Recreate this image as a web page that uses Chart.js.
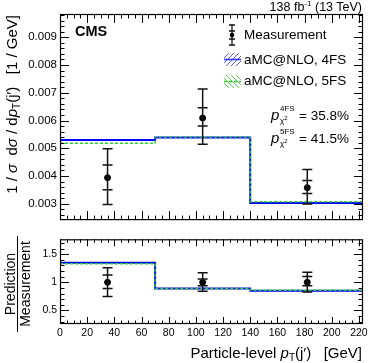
<!DOCTYPE html>
<html><head><meta charset="utf-8">
<script src="https://cdn.jsdelivr.net/npm/chart.js@4.4.0/dist/chart.umd.min.js"></script>
<style>
body{margin:0;background:#fff;width:374px;height:363px;overflow:hidden;position:relative;font-family:"Liberation Sans",Arial,sans-serif;color:#000;}
.abs{position:absolute;white-space:nowrap;line-height:1;}
canvas{position:absolute;left:0;}
sup,sub{line-height:0;}
</style></head><body>
<canvas id="c1" width="374" height="230" style="top:0"></canvas>
<canvas id="c2" width="374" height="133" style="top:230px"></canvas>

<div class="abs" style="right:12px;top:1px;font-size:12.5px;">138 fb<sup style="font-size:8px;vertical-align:5px;">-1</sup> (13 TeV)</div>
<div class="abs" style="left:75px;top:24px;font-size:14.5px;font-weight:bold;">CMS</div>
<div class="abs" style="left:244px;top:28px;font-size:13.5px;">Measurement</div>
<div class="abs" style="left:244px;top:53px;font-size:13.5px;">aMC@NLO, 4FS</div>
<div class="abs" style="left:244px;top:74px;font-size:13.5px;">aMC@NLO, 5FS</div>

<div class="abs" style="left:271px;top:104px;width:80px;height:22px;font-size:13.5px;">
  <span class="abs" style="left:0;top:3px;font-style:italic;font-size:15px;">p</span>
  <span class="abs" style="left:9px;top:1px;font-size:8px;">4FS</span>
  <span class="abs" style="left:9px;top:13px;font-size:8px;">&#967;<sup style="font-size:6px;vertical-align:3px;">2</sup></span>
  <span class="abs" style="left:28px;top:5px;">= 35.8%</span>
</div>
<div class="abs" style="left:271px;top:127px;width:80px;height:22px;font-size:13.5px;">
  <span class="abs" style="left:0;top:3px;font-style:italic;font-size:15px;">p</span>
  <span class="abs" style="left:9px;top:1px;font-size:8px;">5FS</span>
  <span class="abs" style="left:9px;top:13px;font-size:8px;">&#967;<sup style="font-size:6px;vertical-align:3px;">2</sup></span>
  <span class="abs" style="left:28px;top:5px;">= 41.5%</span>
</div>

<div class="abs" style="left:4px;top:229px;width:214px;text-align:right;font-size:15px;transform-origin:0 0;transform:rotate(-90deg);">1 / <i>σ</i>&nbsp; d<i>σ</i> / d<i>p</i><sub style="font-size:10px;vertical-align:-3px;">T</sub>(j′)&nbsp;&nbsp; [1 / GeV]</div>

<div class="abs" style="left:3px;top:332px;width:96px;text-align:center;font-size:14px;transform-origin:0 0;transform:rotate(-90deg);line-height:14px;">
  <div style="border-bottom:1px solid #000;padding-bottom:0px;">Prediction</div>
  <div style="padding-top:0px;">Measurement</div>
</div>

<div class="abs" style="right:12px;top:345px;font-size:15px;">Particle-level <i>p</i><sub style="font-size:10px;vertical-align:-3px;">T</sub>(j′)&nbsp;&nbsp; [GeV]</div>

<script>
// ---------------- data ----------------
const binEdges = [0, 70, 140, 225];
const measX = [35, 105, 182];
const measY = [0.00394, 0.00609, 0.00358];
const statLo = [0.00350, 0.00580, 0.00337];
const statHi = [0.00440, 0.00646, 0.00384];
const totLo = [0.00297, 0.00514, 0.00299];
const totHi = [0.00498, 0.00714, 0.00423];
const pred4FS = [0.00530, 0.00539, 0.00303];
const pred5FS = [0.00518, 0.00540, 0.00307];
const ratioMeas = [1, 1, 1];
const ratioStatLo = [0.89, 0.94, 0.94];
const ratioStatHi = [1.13, 1.06, 1.105];
const ratioTotLo = [0.75, 0.84, 0.83];
const ratioTotHi = [1.26, 1.17, 1.18];
const ratio4FS = [1.35, 0.89, 0.85];
const ratio5FS = [1.33, 0.89, 0.86];
const topYTicks = [0.003, 0.004, 0.005, 0.006, 0.007, 0.008, 0.009];
const ratioYTicks = [0.5, 1, 1.5];
const xTicks = [0, 20, 40, 60, 80, 100, 120, 140, 160, 180, 200, 220];

const FONT = '"Liberation Sans", Arial, sans-serif';

function steps(vals) {
  const pts = vals.map((v, i) => ({x: binEdges[i], y: v}));
  pts.push({x: binEdges[binEdges.length - 1], y: vals[vals.length - 1]});
  return pts;
}

const frameTicks = {
  id: 'frameTicks',
  afterDraw(chart, args, o) {
    const ctx = chart.ctx, a = chart.chartArea;
    const xs = chart.scales.x, ys = chart.scales.y;
    ctx.save();
    ctx.strokeStyle = '#000';
    ctx.lineWidth = 1;
    ctx.beginPath();
    const gen = (min, max, step) => {
      const out = [];
      for (let k = Math.ceil(min / step - 1e-9); k * step <= max + 1e-12; k++) out.push(k * step);
      return out;
    };
    const isMaj = (v, m) => Math.abs(v / m - Math.round(v / m)) < 1e-6;
    gen(xs.min, xs.max, o.xMinor).forEach(v => {
      const p = Math.round(xs.getPixelForValue(v)) + 0.5;
      const L = isMaj(v, o.xMajor) ? o.xMajLen : o.xMinLen;
      ctx.moveTo(p, a.bottom); ctx.lineTo(p, a.bottom - L);
      ctx.moveTo(p, a.top); ctx.lineTo(p, a.top + L);
    });
    gen(ys.min, ys.max, o.yMinor).forEach(v => {
      const p = Math.round(ys.getPixelForValue(v)) + 0.5;
      const L = isMaj(v, o.yMajor) ? o.yMajLen : o.yMinLen;
      ctx.moveTo(a.left, p); ctx.lineTo(a.left + L, p);
      ctx.moveTo(a.right, p); ctx.lineTo(a.right - L, p);
    });
    ctx.stroke();
    ctx.lineWidth = 1.2;
    ctx.strokeRect(a.left + 0.5, a.top + 0.5, a.right - a.left - 1, a.bottom - a.top - 1);
    ctx.restore();
  }
};

const errBars = {
  id: 'errBars',
  afterDatasetsDraw(chart, args, o) {
    const ctx = chart.ctx, xs = chart.scales.x, ys = chart.scales.y;
    ctx.save();
    ctx.strokeStyle = '#111';
    ctx.lineWidth = 1.5;
    o.x.forEach((xv, i) => {
      const px = xs.getPixelForValue(xv);
      const yTl = ys.getPixelForValue(o.totLo[i]), yTh = ys.getPixelForValue(o.totHi[i]);
      const ySl = ys.getPixelForValue(o.statLo[i]), ySh = ys.getPixelForValue(o.statHi[i]);
      ctx.beginPath();
      ctx.moveTo(px, yTl); ctx.lineTo(px, yTh);
      [yTl, yTh, ySl, ySh].forEach(y => { ctx.moveTo(px - 5, y); ctx.lineTo(px + 5, y); });
      ctx.stroke();
    });
    ctx.restore();
  }
};

const legendSyms = {
  id: 'legendSyms',
  afterDraw(chart) {
    const ctx = chart.ctx;
    ctx.save();
    ctx.strokeStyle = '#111'; ctx.lineWidth = 1.3;
    ctx.beginPath();
    const mx = 232;
    ctx.moveTo(mx, 25); ctx.lineTo(mx, 45);
    [25, 31, 39, 45].forEach(y => { ctx.moveTo(mx - 3, y); ctx.lineTo(mx + 3, y); });
    ctx.stroke();
    ctx.fillStyle = '#000';
    ctx.beginPath(); ctx.arc(mx, 35, 2.3, 0, Math.PI * 2); ctx.fill();
    function hatchBox(x0, y0, w, h, col, dir, dash) {
      ctx.save();
      ctx.beginPath(); ctx.rect(x0, y0, w, h); ctx.clip();
      ctx.strokeStyle = col; ctx.lineWidth = 0.8;
      ctx.beginPath();
      for (let k = -h; k < w + h; k += 5) {
        if (dir > 0) { ctx.moveTo(x0 + k, y0 + h); ctx.lineTo(x0 + k + h, y0); }
        else { ctx.moveTo(x0 + k, y0); ctx.lineTo(x0 + k + h, y0 + h); }
      }
      ctx.stroke();
      ctx.restore();
      ctx.strokeStyle = col; ctx.lineWidth = 1.6;
      ctx.setLineDash(dash);
      ctx.beginPath(); ctx.moveTo(x0, y0 + h / 2); ctx.lineTo(x0 + w, y0 + h / 2); ctx.stroke();
      ctx.setLineDash([]);
    }
    hatchBox(224, 53, 17, 13, '#3333ff', 1, []);
    hatchBox(224, 75, 17, 13, '#22cc22', -1, [3, 2]);
    ctx.restore();
  }
};

const BLUE = '#0000ff', GREEN = '#2ad42a';

function lineDs(vals, color, dash, w) {
  return {type: 'scatter', data: steps(vals), showLine: true, stepped: true,
    borderColor: color, borderWidth: w, borderDash: dash, pointRadius: 0, fill: false};
}

Chart.defaults.font.family = FONT;
Chart.defaults.color = '#000';

new Chart(document.getElementById('c1'), {
  type: 'scatter',
  data: {
    datasets: [
      {data: measX.map((x, i) => ({x, y: measY[i]})), pointRadius: 3, pointBackgroundColor: '#000', pointBorderColor: '#000', showLine: false},
      lineDs(pred5FS, GREEN, [3, 2], 1.4),
      lineDs(pred4FS, BLUE, [], 2)
    ]
  },
  options: {
    responsive: false, animation: false, devicePixelRatio: 1,
    layout: {padding: {left: 0, right: 11, top: 14, bottom: 0}},
    plugins: {legend: {display: false}, tooltip: {enabled: false},
      frameTicks: {xMinor: 5, xMajor: 20, yMinor: 0.0002, yMajor: 0.001, xMajLen: 9, xMinLen: 4.5, yMajLen: 9, yMinLen: 4.5},
      errBars: {x: measX, statLo, statHi, totLo, totHi}},
    scales: {
      x: {type: 'linear', min: 0, max: 223, grid: {display: false, drawTicks: false}, border: {display: false},
        ticks: {display: false, stepSize: 20}, afterFit: s => { s.height = 1; }},
      y: {type: 'linear', min: 0.00241, max: 0.00984, grid: {display: false, drawTicks: false}, border: {display: false},
        afterBuildTicks: s => { s.ticks = topYTicks.map(v => ({value: v})); },
        ticks: {padding: 3, font: {size: 11.5}, callback: v => v.toFixed(3)},
        afterFit: s => { s.width = 60; }}
    }
  },
  plugins: [frameTicks, errBars, legendSyms]
});

new Chart(document.getElementById('c2'), {
  type: 'scatter',
  data: {
    datasets: [
      {data: measX.map((x, i) => ({x, y: ratioMeas[i]})), pointRadius: 3, pointBackgroundColor: '#000', pointBorderColor: '#000', showLine: false},
      lineDs(ratio5FS, GREEN, [3, 2], 1.4),
      lineDs(ratio4FS, BLUE, [], 2)
    ]
  },
  options: {
    responsive: false, animation: false, devicePixelRatio: 1,
    layout: {padding: {left: 0, right: 11, top: 8, bottom: 0}},
    plugins: {legend: {display: false}, tooltip: {enabled: false},
      frameTicks: {xMinor: 5, xMajor: 20, yMinor: 0.1, yMajor: 0.5, xMajLen: 7, xMinLen: 3.5, yMajLen: 9, yMinLen: 4.5},
      errBars: {x: measX, statLo: ratioStatLo, statHi: ratioStatHi, totLo: ratioTotLo, totHi: ratioTotHi}},
    scales: {
      x: {type: 'linear', min: 0, max: 223, grid: {display: false, drawTicks: false}, border: {display: false},
        afterBuildTicks: s => { s.ticks = xTicks.map(v => ({value: v})); },
        ticks: {padding: 3, font: {size: 10.5}, maxRotation: 0, autoSkip: false},
        afterFit: s => { s.height = 39; }},
      y: {type: 'linear', min: 0.26, max: 1.765, grid: {display: false, drawTicks: false}, border: {display: false},
        afterBuildTicks: s => { s.ticks = ratioYTicks.map(v => ({value: v})); },
        ticks: {padding: 3, font: {size: 10.5}, callback: v => String(v)},
        afterFit: s => { s.width = 60; }}
    }
  },
  plugins: [frameTicks, errBars]
});
</script>
</body></html>
